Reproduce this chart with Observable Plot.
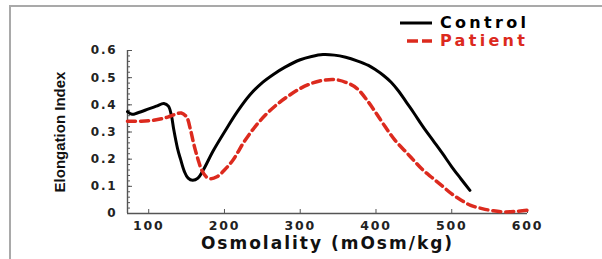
<!DOCTYPE html>
<html><head><meta charset="utf-8">
<script src="https://cdn.jsdelivr.net/npm/d3@7"></script>
<script src="https://cdn.jsdelivr.net/npm/@observablehq/plot@0.6"></script>
<style>
body{margin:0;background:#fff;}
#wrap{position:relative;width:602px;height:259px;overflow:hidden;font-family:"DejaVu Sans",sans-serif;background:#fff;}
#wrap svg{position:absolute;left:0;top:0;}
.fr{position:absolute;background:#a9a9a9;}
#legend{position:absolute;left:398px;top:14px;font-weight:bold;font-size:16px;letter-spacing:3.3px;line-height:18px;}
#legend .row{display:flex;align-items:center;height:18px;}
#legend svg{position:static;margin-right:8px;}
</style></head>
<body>
<div id="wrap">
  <div class="fr" style="left:9px;top:5px;width:600px;height:2px"></div>
  <div class="fr" style="left:9px;top:5px;width:2px;height:260px"></div>
  <div id="legend"></div>
</div>
<script>
// Data
const osmControl = [72,78,85,100,110,120,126,130,133,138,142,147,152,158,165,172,185,200,217,234,250,265,280,300,315,330,345,360,375,390,400,410,420,430,440,450,462,475,488,500,512,524];
const eiControl  = [0.375,0.365,0.37,0.385,0.395,0.405,0.395,0.36,0.31,0.24,0.20,0.155,0.13,0.122,0.13,0.16,0.23,0.30,0.375,0.438,0.482,0.513,0.539,0.566,0.578,0.585,0.583,0.575,0.562,0.545,0.528,0.508,0.483,0.45,0.41,0.37,0.32,0.27,0.22,0.172,0.128,0.085];
const osmPatient = [72,90,110,125,135,143,150,155,160,165,170,176,182,190,200,212,225,240,255,270,285,300,315,330,345,360,375,390,400,412,425,440,450,462,475,488,500,512,525,540,555,570,585,600];
const eiPatient  = [0.34,0.34,0.345,0.355,0.365,0.37,0.355,0.31,0.25,0.20,0.16,0.135,0.128,0.135,0.16,0.20,0.26,0.318,0.365,0.403,0.434,0.46,0.479,0.49,0.493,0.483,0.46,0.41,0.37,0.32,0.27,0.225,0.195,0.16,0.13,0.10,0.072,0.05,0.03,0.018,0.01,0.006,0.008,0.012];
const seriesNames = ["Control","Patient"];
const seriesColors = ["#000000","#dc2a1e"];
const xTickValues = [100,200,300,400,500,600];
const yTickValues = [0,0.1,0.2,0.3,0.4,0.5,0.6];
const yTickLabels = ["0","0.1","0.2","0.3","0.4","0.5","0.6"];
const xLabel = "Osmolality (mOsm/kg)";
const yLabel = "Elongation Index";

const control = osmControl.map((x,i)=>({osm:x, ei:eiControl[i]}));
const patient = osmPatient.map((x,i)=>({osm:x, ei:eiPatient[i]}));
const yMinor = d3.range(0, 0.6001, 0.02);
const axisColor = "#555";

const chart = Plot.plot({
  width:602, height:259,
  marginLeft:127, marginRight:75, marginTop:50, marginBottom:46,
  style:{background:"transparent", fontFamily:"'DejaVu Sans', sans-serif"},
  x:{domain:[72,600]},
  y:{domain:[0,0.6]},
  marks:[
    Plot.ruleX([72],{stroke:axisColor, strokeWidth:1.4}),
    Plot.ruleY([0],{stroke:axisColor, strokeWidth:1.4}),
    Plot.axisY(yMinor,{tickSize:-3, tickFormat:()=>"", stroke:axisColor, label:null}),
    Plot.axisY(yTickValues,{tickSize:-5, tickFormat:()=>"", stroke:axisColor, label:null}),
    Plot.axisY(yTickValues,{tickSize:0, tickPadding:10, tickFormat:(d)=>yTickLabels[yTickValues.indexOf(d)], fontSize:12, fontWeight:"bold", fill:"#222", label:null}),
    Plot.axisX(xTickValues,{tickSize:-4, tickFormat:()=>"", stroke:axisColor, label:null}),
    Plot.axisX(xTickValues,{tickSize:0, tickPadding:8, fontSize:12.5, fontWeight:"bold", fill:"#222", label:null}),
    Plot.text([xLabel],{text:d=>d, frameAnchor:"bottom", dy:35, lineAnchor:"bottom", fontSize:17, fontWeight:"bold", fill:"#111"}),
    Plot.text([yLabel],{text:d=>d, frameAnchor:"left", dx:-67, rotate:-90, textAnchor:"middle", fontSize:15, fontWeight:"bold", fill:"#111", fontFamily:"'Liberation Sans', Arial, sans-serif"}),
    Plot.line(control,{x:"osm", y:"ei", stroke:seriesColors[0], strokeWidth:3, curve:"catmull-rom"}),
    Plot.line(patient,{x:"osm", y:"ei", stroke:seriesColors[1], strokeWidth:3.5, strokeDasharray:"8,5", curve:"catmull-rom"})
  ]
});

// reference text looks horizontally stretched: emulate with letter spacing
d3.select(chart).selectAll("text").each(function(){
  const t = this.textContent;
  if (t === yLabel) return;
  if (t === xLabel) { this.style.letterSpacing = "2px"; }
  else { this.style.letterSpacing = "1.8px"; }
});
document.getElementById("wrap").appendChild(chart);

// legend
const legend = d3.select("#legend");
seriesNames.forEach((name,i)=>{
  const row = legend.append("div").attr("class","row").style("color", seriesColors[i]);
  const s = row.append("svg").attr("width",34).attr("height",18);
  s.append("line").attr("x1", i===0?2:9).attr("x2",34).attr("y1",9).attr("y2",9)
    .attr("stroke",seriesColors[i]).attr("stroke-width", i===0?3:3.5)
    .attr("stroke-dasharray", i===0?null:"11,4");
  row.append("span").text(name);
});
</script>
</body></html>
